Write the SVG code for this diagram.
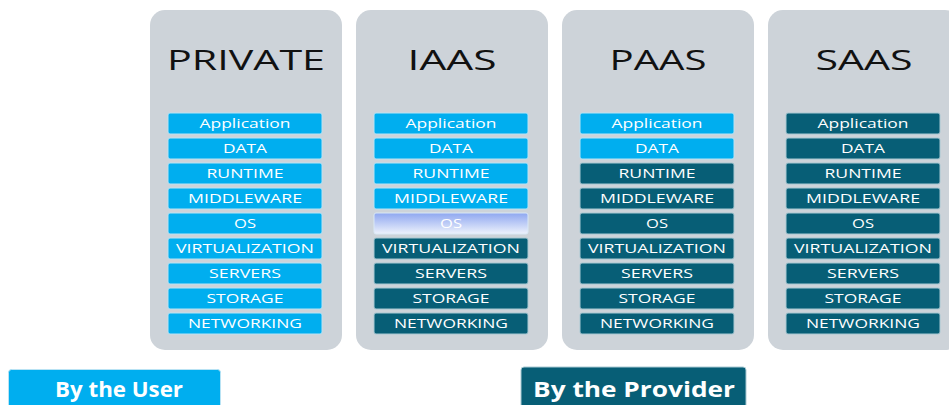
<svg xmlns="http://www.w3.org/2000/svg" width="949" height="405" viewBox="0 0 949 405">
  <defs>
    <linearGradient id="osGrad" x1="0" y1="0" x2="0" y2="1">
      <stop offset="0" stop-color="#8ea7f0"/>
      <stop offset="1" stop-color="#eef2fc"/>
    </linearGradient>
    <style>
      .panel { fill: #cdd3d9; }
      .title { font-family: "Open Sans", "Liberation Sans", sans-serif; font-size: 27px; fill: #111; text-anchor: middle; }
      .user { fill: #00aeef; stroke: #b9e3f4; stroke-width: 1; }
      .prov { fill: #075e76; stroke: #a9c9d3; stroke-width: 1; }
      .os { fill: url(#osGrad); stroke: #d9e8f5; stroke-width: 1; }
      .lbl { font-family: "Open Sans", "Liberation Sans", sans-serif; font-size: 12.5px; fill: #ffffff; text-anchor: middle; }
      .btn { font-family: "Open Sans", "Liberation Sans", sans-serif; font-size: 22px; font-weight: bold; fill: #ffffff; text-anchor: middle; }
    </style>
    <!-- one layer row: labels share a fixed width per text -->
    <g id="labels">
      <text class="lbl" x="77" y="15" textLength="91" lengthAdjust="spacingAndGlyphs">Application</text>
      <text class="lbl" x="77" y="40" textLength="44" lengthAdjust="spacingAndGlyphs">DATA</text>
      <text class="lbl" x="77" y="65" textLength="77" lengthAdjust="spacingAndGlyphs">RUNTIME</text>
      <text class="lbl" x="77" y="90" textLength="114" lengthAdjust="spacingAndGlyphs">MIDDLEWARE</text>
      <text class="lbl" x="77" y="115" textLength="22" lengthAdjust="spacingAndGlyphs">OS</text>
      <text class="lbl" x="77" y="140" textLength="138" lengthAdjust="spacingAndGlyphs">VIRTUALIZATION</text>
      <text class="lbl" x="77" y="165" textLength="72" lengthAdjust="spacingAndGlyphs">SERVERS</text>
      <text class="lbl" x="77" y="190" textLength="77" lengthAdjust="spacingAndGlyphs">STORAGE</text>
      <text class="lbl" x="77" y="215" textLength="114" lengthAdjust="spacingAndGlyphs">NETWORKING</text>
    </g>
  </defs>

  <rect width="949" height="405" fill="#ffffff"/>

  <!-- PRIVATE: everything managed by the user -->
  <g id="private">
    <rect class="panel" x="150" y="10" width="192" height="340" rx="15"/>
    <text class="title" x="246" y="70" textLength="158" lengthAdjust="spacingAndGlyphs">PRIVATE</text>
    <g transform="translate(168,113)">
      <rect class="user" x="0" y="0" width="154" height="21" rx="2"/>
      <rect class="user" x="0" y="25" width="154" height="21" rx="2"/>
      <rect class="user" x="0" y="50" width="154" height="21" rx="2"/>
      <rect class="user" x="0" y="75" width="154" height="21" rx="2"/>
      <rect class="user" x="0" y="100" width="154" height="21" rx="2"/>
      <rect class="user" x="0" y="125" width="154" height="21" rx="2"/>
      <rect class="user" x="0" y="150" width="154" height="21" rx="2"/>
      <rect class="user" x="0" y="175" width="154" height="21" rx="2"/>
      <rect class="user" x="0" y="200" width="154" height="21" rx="2"/>
      <use href="#labels"/>
    </g>
  </g>

  <!-- IAAS -->
  <g id="iaas">
    <rect class="panel" x="356" y="10" width="192" height="340" rx="15"/>
    <text class="title" x="452" y="70" textLength="89" lengthAdjust="spacingAndGlyphs">IAAS</text>
    <g transform="translate(374,113)">
      <rect class="user" x="0" y="0" width="154" height="21" rx="2"/>
      <rect class="user" x="0" y="25" width="154" height="21" rx="2"/>
      <rect class="user" x="0" y="50" width="154" height="21" rx="2"/>
      <rect class="user" x="0" y="75" width="154" height="21" rx="2"/>
      <rect class="os" x="0" y="100" width="154" height="21" rx="2"/>
      <rect class="prov" x="0" y="125" width="154" height="21" rx="2"/>
      <rect class="prov" x="0" y="150" width="154" height="21" rx="2"/>
      <rect class="prov" x="0" y="175" width="154" height="21" rx="2"/>
      <rect class="prov" x="0" y="200" width="154" height="21" rx="2"/>
      <use href="#labels"/>
    </g>
  </g>

  <!-- PAAS -->
  <g id="paas">
    <rect class="panel" x="562" y="10" width="192" height="340" rx="15"/>
    <text class="title" x="658" y="70" textLength="97" lengthAdjust="spacingAndGlyphs">PAAS</text>
    <g transform="translate(580,113)">
      <rect class="user" x="0" y="0" width="154" height="21" rx="2"/>
      <rect class="user" x="0" y="25" width="154" height="21" rx="2"/>
      <rect class="prov" x="0" y="50" width="154" height="21" rx="2"/>
      <rect class="prov" x="0" y="75" width="154" height="21" rx="2"/>
      <rect class="prov" x="0" y="100" width="154" height="21" rx="2"/>
      <rect class="prov" x="0" y="125" width="154" height="21" rx="2"/>
      <rect class="prov" x="0" y="150" width="154" height="21" rx="2"/>
      <rect class="prov" x="0" y="175" width="154" height="21" rx="2"/>
      <rect class="prov" x="0" y="200" width="154" height="21" rx="2"/>
      <use href="#labels"/>
    </g>
  </g>

  <!-- SAAS: everything managed by the provider -->
  <g id="saas">
    <rect class="panel" x="768" y="10" width="192" height="340" rx="15"/>
    <text class="title" x="864" y="70" textLength="97" lengthAdjust="spacingAndGlyphs">SAAS</text>
    <g transform="translate(786,113)">
      <rect class="prov" x="0" y="0" width="154" height="21" rx="2"/>
      <rect class="prov" x="0" y="25" width="154" height="21" rx="2"/>
      <rect class="prov" x="0" y="50" width="154" height="21" rx="2"/>
      <rect class="prov" x="0" y="75" width="154" height="21" rx="2"/>
      <rect class="prov" x="0" y="100" width="154" height="21" rx="2"/>
      <rect class="prov" x="0" y="125" width="154" height="21" rx="2"/>
      <rect class="prov" x="0" y="150" width="154" height="21" rx="2"/>
      <rect class="prov" x="0" y="175" width="154" height="21" rx="2"/>
      <rect class="prov" x="0" y="200" width="154" height="21" rx="2"/>
      <use href="#labels"/>
    </g>
  </g>

  <!-- legend -->
  <g id="legend-user">
    <rect class="user" x="8.5" y="369.5" width="212" height="45" rx="3"/>
    <text class="btn" x="119" y="397" textLength="128" lengthAdjust="spacingAndGlyphs">By the User</text>
  </g>
  <g id="legend-provider">
    <rect class="prov" x="521" y="367" width="225" height="45" rx="3" stroke-width="1.5"/>
    <text class="btn" x="634" y="397" textLength="202" lengthAdjust="spacingAndGlyphs">By the Provider</text>
  </g>
</svg>
